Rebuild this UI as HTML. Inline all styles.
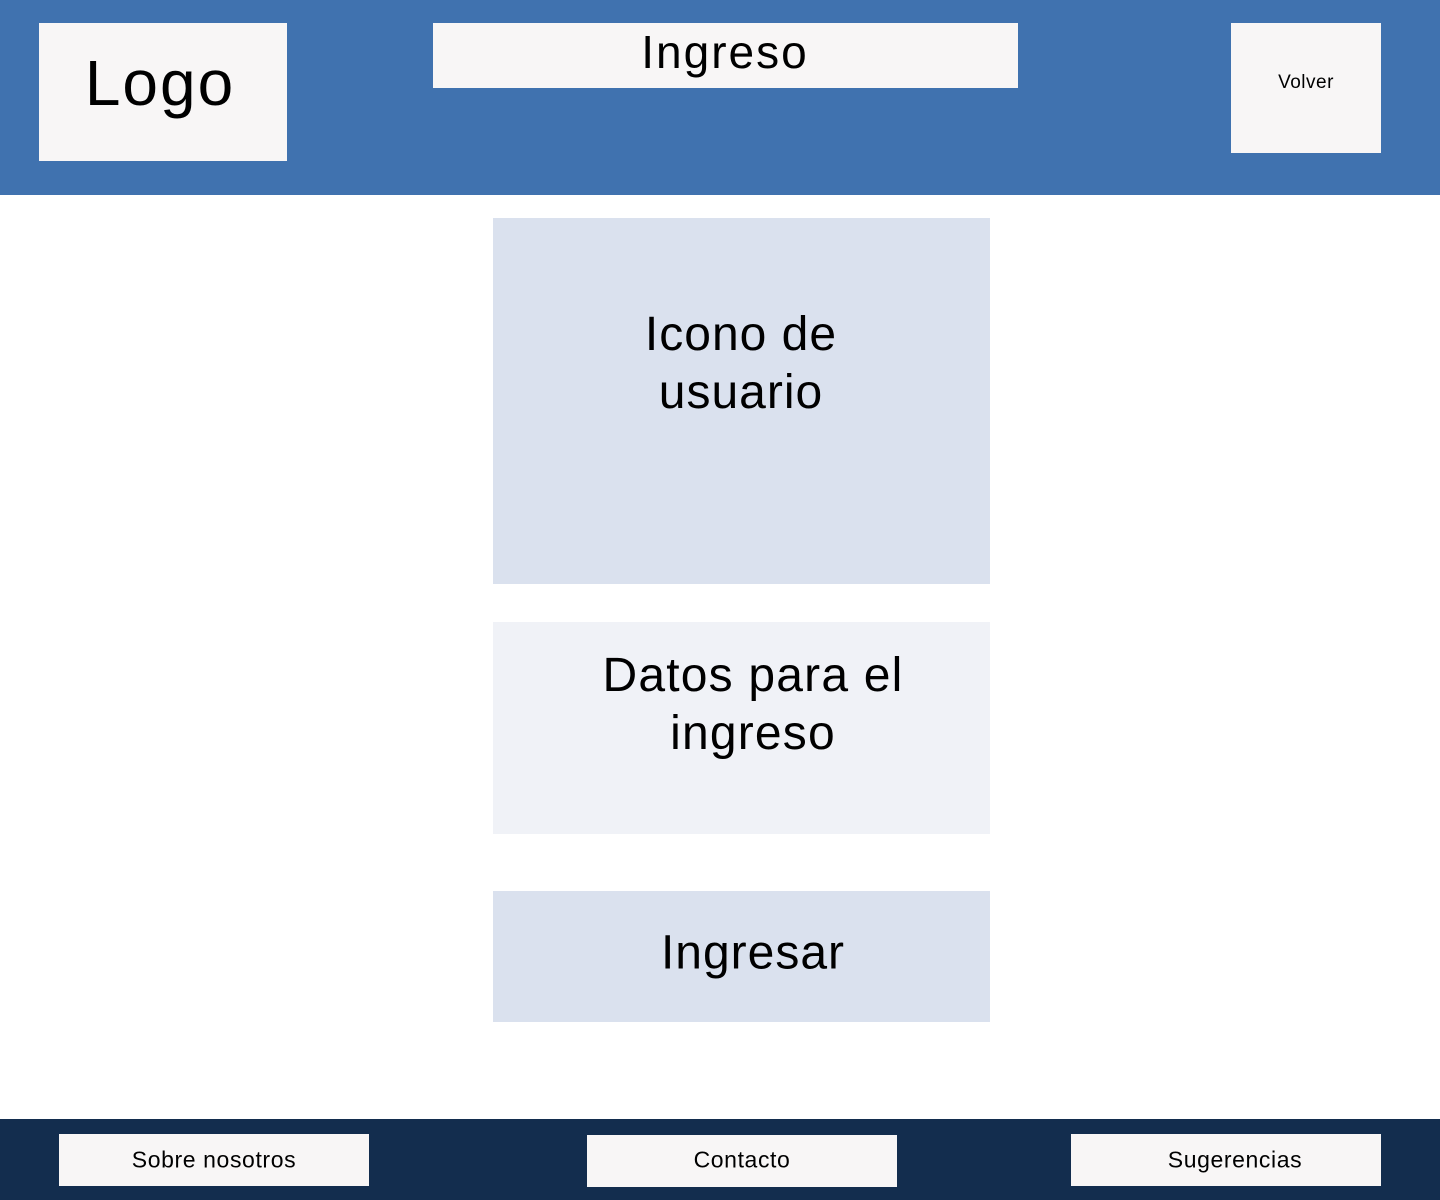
<!DOCTYPE html>
<html><head><meta charset="utf-8"><style>
*{margin:0;padding:0;box-sizing:border-box}
body{width:1440px;height:1200px;position:relative;background:#fff;font-family:"Liberation Sans",sans-serif;color:#000;overflow:hidden}
.a{position:absolute}
.t{position:absolute;white-space:nowrap;transform:translate(-50%,-50%);text-align:center}
.w{background:#F8F6F6}
</style></head><body>
<div class="a" style="left:0;top:0;width:1440px;height:195px;background:#4072AF"></div>
<div class="a w" style="left:39px;top:23px;width:248px;height:138px"></div>
<div class="t" style="left:160px;top:83px;font-size:64px;letter-spacing:2px">Logo</div>
<div class="a w" style="left:433px;top:23px;width:585px;height:65px"></div>
<div class="t" style="left:725px;top:52px;font-size:46px;letter-spacing:2px">Ingreso</div>
<div class="a w" style="left:1231px;top:23px;width:150px;height:130px"></div>
<div class="t" style="left:1306px;top:83px;font-size:19px;letter-spacing:0.5px">Volver</div>

<div class="a" style="left:493px;top:218px;width:497px;height:366px;background:#DAE1EE"></div>
<div class="t" style="left:741px;top:364px;font-size:48px;line-height:58px;letter-spacing:1px">Icono de<br>usuario</div>
<div class="a" style="left:493px;top:622px;width:497px;height:212px;background:#F0F2F7"></div>
<div class="t" style="left:753px;top:705px;font-size:48px;line-height:58px;letter-spacing:1.2px">Datos para el<br>ingreso</div>
<div class="a" style="left:493px;top:891px;width:497px;height:131px;background:#DAE1EE"></div>
<div class="t" style="left:753px;top:953px;font-size:48px;letter-spacing:1px">Ingresar</div>

<div class="a" style="left:0;top:1119px;width:1440px;height:81px;background:#132D4E"></div>
<div class="a w" style="left:59px;top:1134px;width:310px;height:52px"></div>
<div class="t" style="left:214px;top:1160px;font-size:23px;letter-spacing:0.6px">Sobre nosotros</div>
<div class="a w" style="left:587px;top:1135px;width:310px;height:52px"></div>
<div class="t" style="left:742px;top:1160px;font-size:23px;letter-spacing:0.6px">Contacto</div>
<div class="a w" style="left:1071px;top:1134px;width:310px;height:52px"></div>
<div class="t" style="left:1235px;top:1160px;font-size:23px;letter-spacing:0.6px">Sugerencias</div>
</body></html>
